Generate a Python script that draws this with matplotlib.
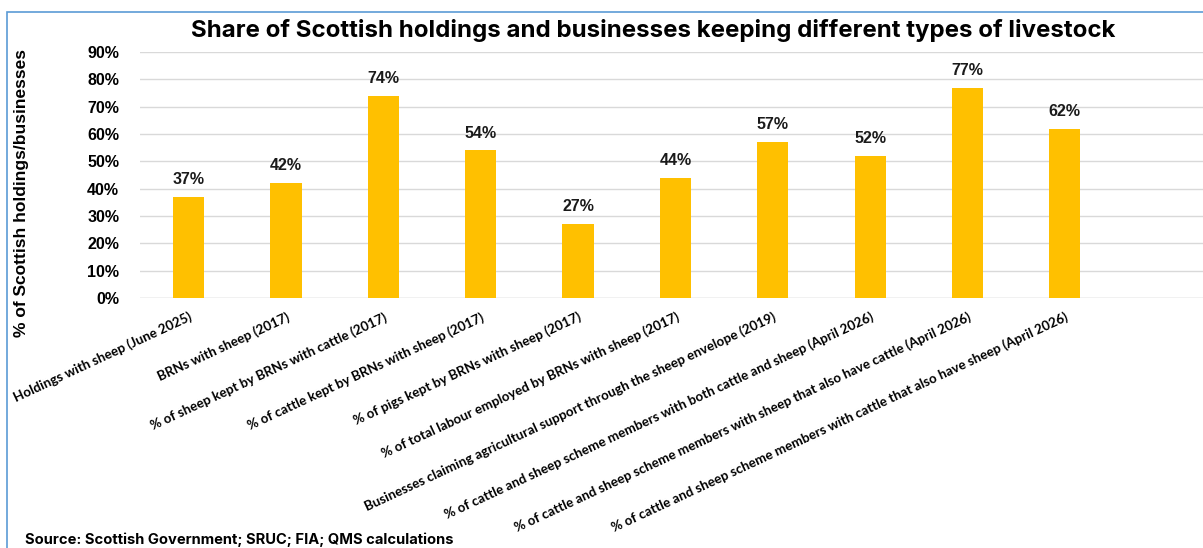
import matplotlib
matplotlib.use("Agg")
import matplotlib.pyplot as plt
from matplotlib.patches import Rectangle
import matplotlib.ticker as ticker

categories = [
    "Holdings with sheep (June 2025)",
    "BRNs with sheep (2017)",
    "% of sheep kept by BRNs with cattle (2017)",
    "% of cattle kept by BRNs with sheep (2017)",
    "% of pigs kept by BRNs with sheep (2017)",
    "% of total labour employed by BRNs with sheep (2017)",
    "Businesses claiming agricultural support through the sheep envelope (2019)",
    "% of cattle and sheep scheme members with both cattle and sheep (April 2026)",
    "% of cattle and sheep scheme members with sheep that also have cattle (April 2026)",
    "% of cattle and sheep scheme members with cattle that also have sheep (April 2026)",
]
shares = [0.37, 0.42, 0.74, 0.54, 0.27, 0.44, 0.57, 0.52, 0.77, 0.62]
yticks = [0.0, 0.1, 0.2, 0.3, 0.4, 0.5, 0.6, 0.7, 0.8, 0.9]

W, H = 1203, 548
fig = plt.figure(figsize=(W / 100, H / 100), dpi=100)
ax = fig.add_axes([140 / W, 1 - 298 / H, (W - 140) / W, (298 - 52) / H])

x = list(range(len(categories)))
ax.bar(x, shares, width=0.32, color="#FFC000", zorder=3)
for xi, v in zip(x, shares):
    ax.annotate(f"{v:.0%}", (xi, v), xytext=(0, 7), textcoords="offset points",
                ha="center", va="bottom", fontsize=11.5, fontweight="bold",
                family="Liberation Sans", color="#1a1a1a")

ax.set_xlim(-0.5, 10.42)
ax.set_ylim(0, 0.9)
ax.set_yticks(yticks)
ax.yaxis.set_major_formatter(ticker.FuncFormatter(lambda v, p: f"{v:.0%}"))
ax.grid(axis="y", color="#D9D9D9", linewidth=1, zorder=0)
for s in ax.spines.values():
    s.set_visible(False)
ax.axhline(0, color="#D9D9D9", linewidth=1, zorder=1)
ax.tick_params(axis="both", length=0)
for lbl in ax.get_yticklabels():
    lbl.set_fontsize(11.5)
    lbl.set_fontweight("bold")
    lbl.set_family("Liberation Sans")
ax.tick_params(axis="y", pad=15)

ax.set_xticks(x)
ax.set_xticklabels(categories, rotation=25, ha="right", va="top",
                   rotation_mode="anchor", fontsize=9.6, fontweight="bold",
                   family="Lato")
ax.tick_params(axis="x", pad=9)

fig.text(22 / W, 1 - 193 / H, "% of Scottish holdings/businesses", rotation=90,
         ha="center", va="center", fontsize=12.5, fontweight="bold",
         family="Liberation Sans")

fig.text(653 / W, 1 - 31 / H, "Share of Scottish holdings and businesses keeping different types of livestock",
         ha="center", va="center", fontsize=17.3, fontweight="bold", family="Inter")
fig.text(25 / W, 1 - 540 / H, "Source: Scottish Government; SRUC; FIA; QMS calculations",
         ha="left", va="center", fontsize=10.6, fontweight="bold", family="Inter")

# thin frame around the chart area
fig.patches.append(Rectangle((7 / W, -0.1), 1.2, 1 - 12 / H + 0.1, transform=fig.transFigure,
                             fill=False, edgecolor="#5B9BD5", linewidth=1.2))

fig.savefig("out.png", dpi=100)
